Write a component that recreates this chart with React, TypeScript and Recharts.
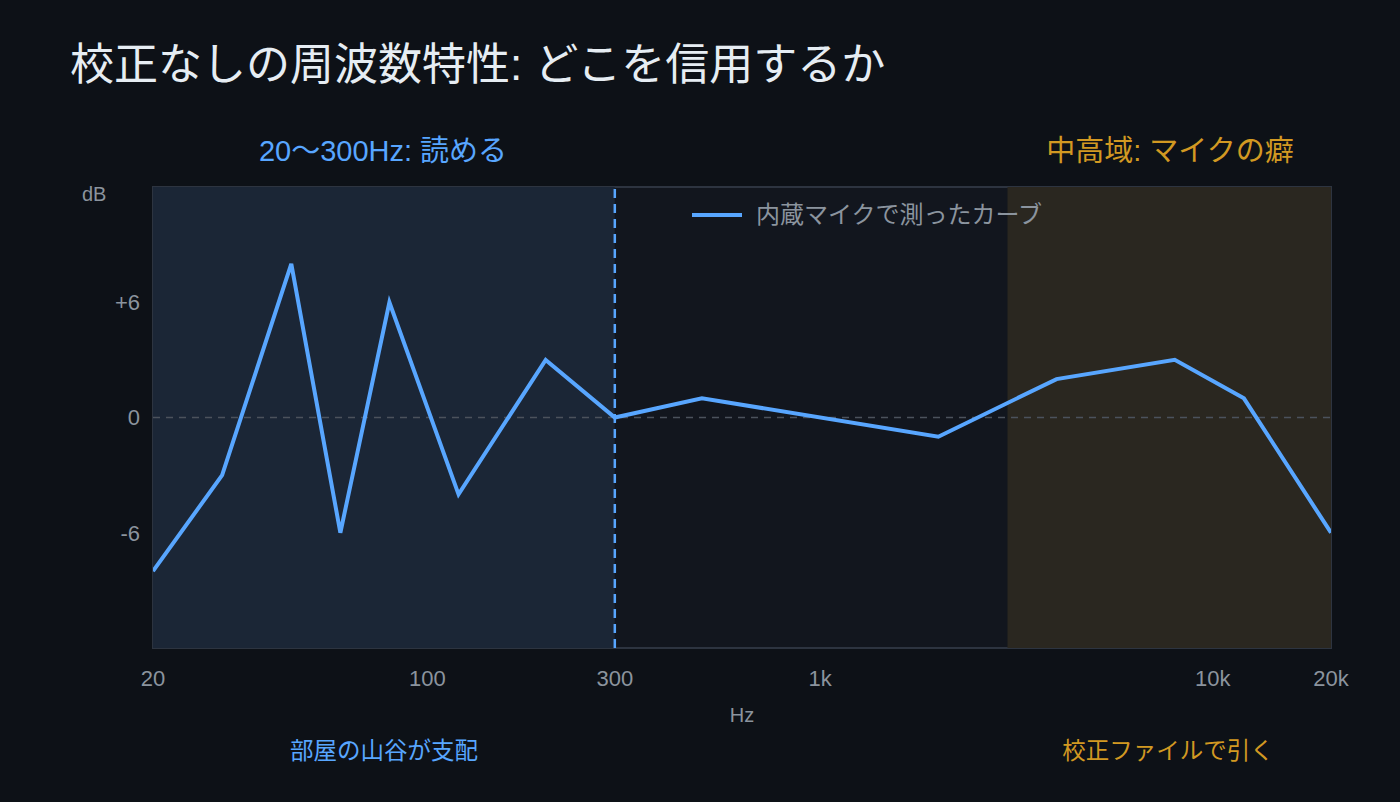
import React from 'react';
import { LineChart, Line, XAxis, YAxis, ReferenceArea, ReferenceLine } from 'recharts';

const freqs = [20, 30, 45, 60, 80, 120, 200, 300, 500, 2000, 4000, 8000, 12000, 20000];
const levels = [-8, -3, 8, -6, 6, -4, 3, 0, 1, -1, 2, 3, 1, -6];
const xTicks = [20, 100, 300, 1000, 10000, 20000];
const yTicks = [-6, 0, 6];

const data = freqs.map((f, i) => ({ freq: f, db: levels[i] }));

const FONT = "'Liberation Sans', 'Noto Sans CJK JP', sans-serif";
const BLUE = '#58a6ff';
const ORANGE = '#d29922';
const MUTED = '#8b949e';

const fmtHz = (v: number) => (v >= 1000 ? `${v / 1000}k` : `${v}`);
const fmtDb = (v: number) => (v > 0 ? `+${v}` : `${v}`);

const label = (text: string, color: string, size: number, style: React.CSSProperties) => (
  <div
    style={{
      position: 'absolute',
      fontFamily: FONT,
      fontSize: size,
      lineHeight: `${size}px`,
      color,
      whiteSpace: 'nowrap',
      ...style,
    }}
  >
    {text}
  </div>
);

export default function App() {
  return (
    <div style={{ position: 'fixed', left: 0, top: 0, width: 1400, height: 802, background: '#0d1117', overflow: 'hidden' }}>
      <LineChart width={1400} height={802} data={data} margin={{ top: 187, right: 69, bottom: 74, left: 93 }}>
        <XAxis
          dataKey="freq"
          type="number"
          scale="log"
          domain={[20, 20000]}
          ticks={xTicks}
          tickFormatter={fmtHz}
          allowDataOverflow
          height={80}
          tickSize={0}
          tickMargin={22}
          axisLine={false}
          tick={{ fill: MUTED, fontSize: 22, fontFamily: FONT }}
          label={{ value: 'Hz', position: 'insideBottom', offset: 6, fill: MUTED, fontSize: 20, fontFamily: FONT }}
        />
        <YAxis
          type="number"
          domain={[-12, 12]}
          ticks={yTicks}
          tickFormatter={fmtDb}
          width={60}
          tickSize={0}
          tickMargin={13}
          axisLine={false}
          tick={{ fill: MUTED, fontSize: 22, fontFamily: FONT }}
        />
        <ReferenceArea x1={20} x2={20000} y1={-12} y2={12} fill="#12161e" fillOpacity={1} stroke="#2d3440" strokeWidth={2} />
        <ReferenceArea x1={20} x2={300} y1={-12} y2={12} fill="#1b2636" fillOpacity={1} />
        <ReferenceArea x1={3000} x2={20000} y1={-12} y2={12} fill="#2a2720" fillOpacity={1} />
        <ReferenceLine y={0} stroke="#4b525c" strokeDasharray="7 6" strokeWidth={1.5} />
        <ReferenceLine x={300} stroke={BLUE} strokeDasharray="9 6" strokeWidth={2.5} />
        <Line
          type="linear"
          dataKey="db"
          stroke={BLUE}
          strokeWidth={4}
          dot={false}
          activeDot={false}
          isAnimationActive={false}
        />
      </LineChart>
      <div style={{ position: 'absolute', left: 692, top: 203, display: 'flex', alignItems: 'center', fontFamily: FONT, fontSize: 24, lineHeight: '24px', color: MUTED }}>
        <div style={{ width: 50, height: 4, background: BLUE, marginRight: 14 }} />
        <span>内蔵マイクで測ったカーブ</span>
      </div>
      {label('校正なしの周波数特性: どこを信用するか', '#e6edf3', 44, { left: 70, top: 43 })}
      {label('20〜300Hz: 読める', BLUE, 29, { left: 383, top: 137, transform: 'translateX(-50%)' })}
      {label('中高域: マイクの癖', ORANGE, 29, { left: 1170, top: 137, transform: 'translateX(-50%)' })}
      {label('dB', MUTED, 20, { left: 82, top: 184 })}
      {label('部屋の山谷が支配', BLUE, 23.5, { left: 384, top: 740, transform: 'translateX(-50%)' })}
      {label('校正ファイルで引く', ORANGE, 23.5, { left: 1168, top: 740, transform: 'translateX(-50%)' })}
    </div>
  );
}
